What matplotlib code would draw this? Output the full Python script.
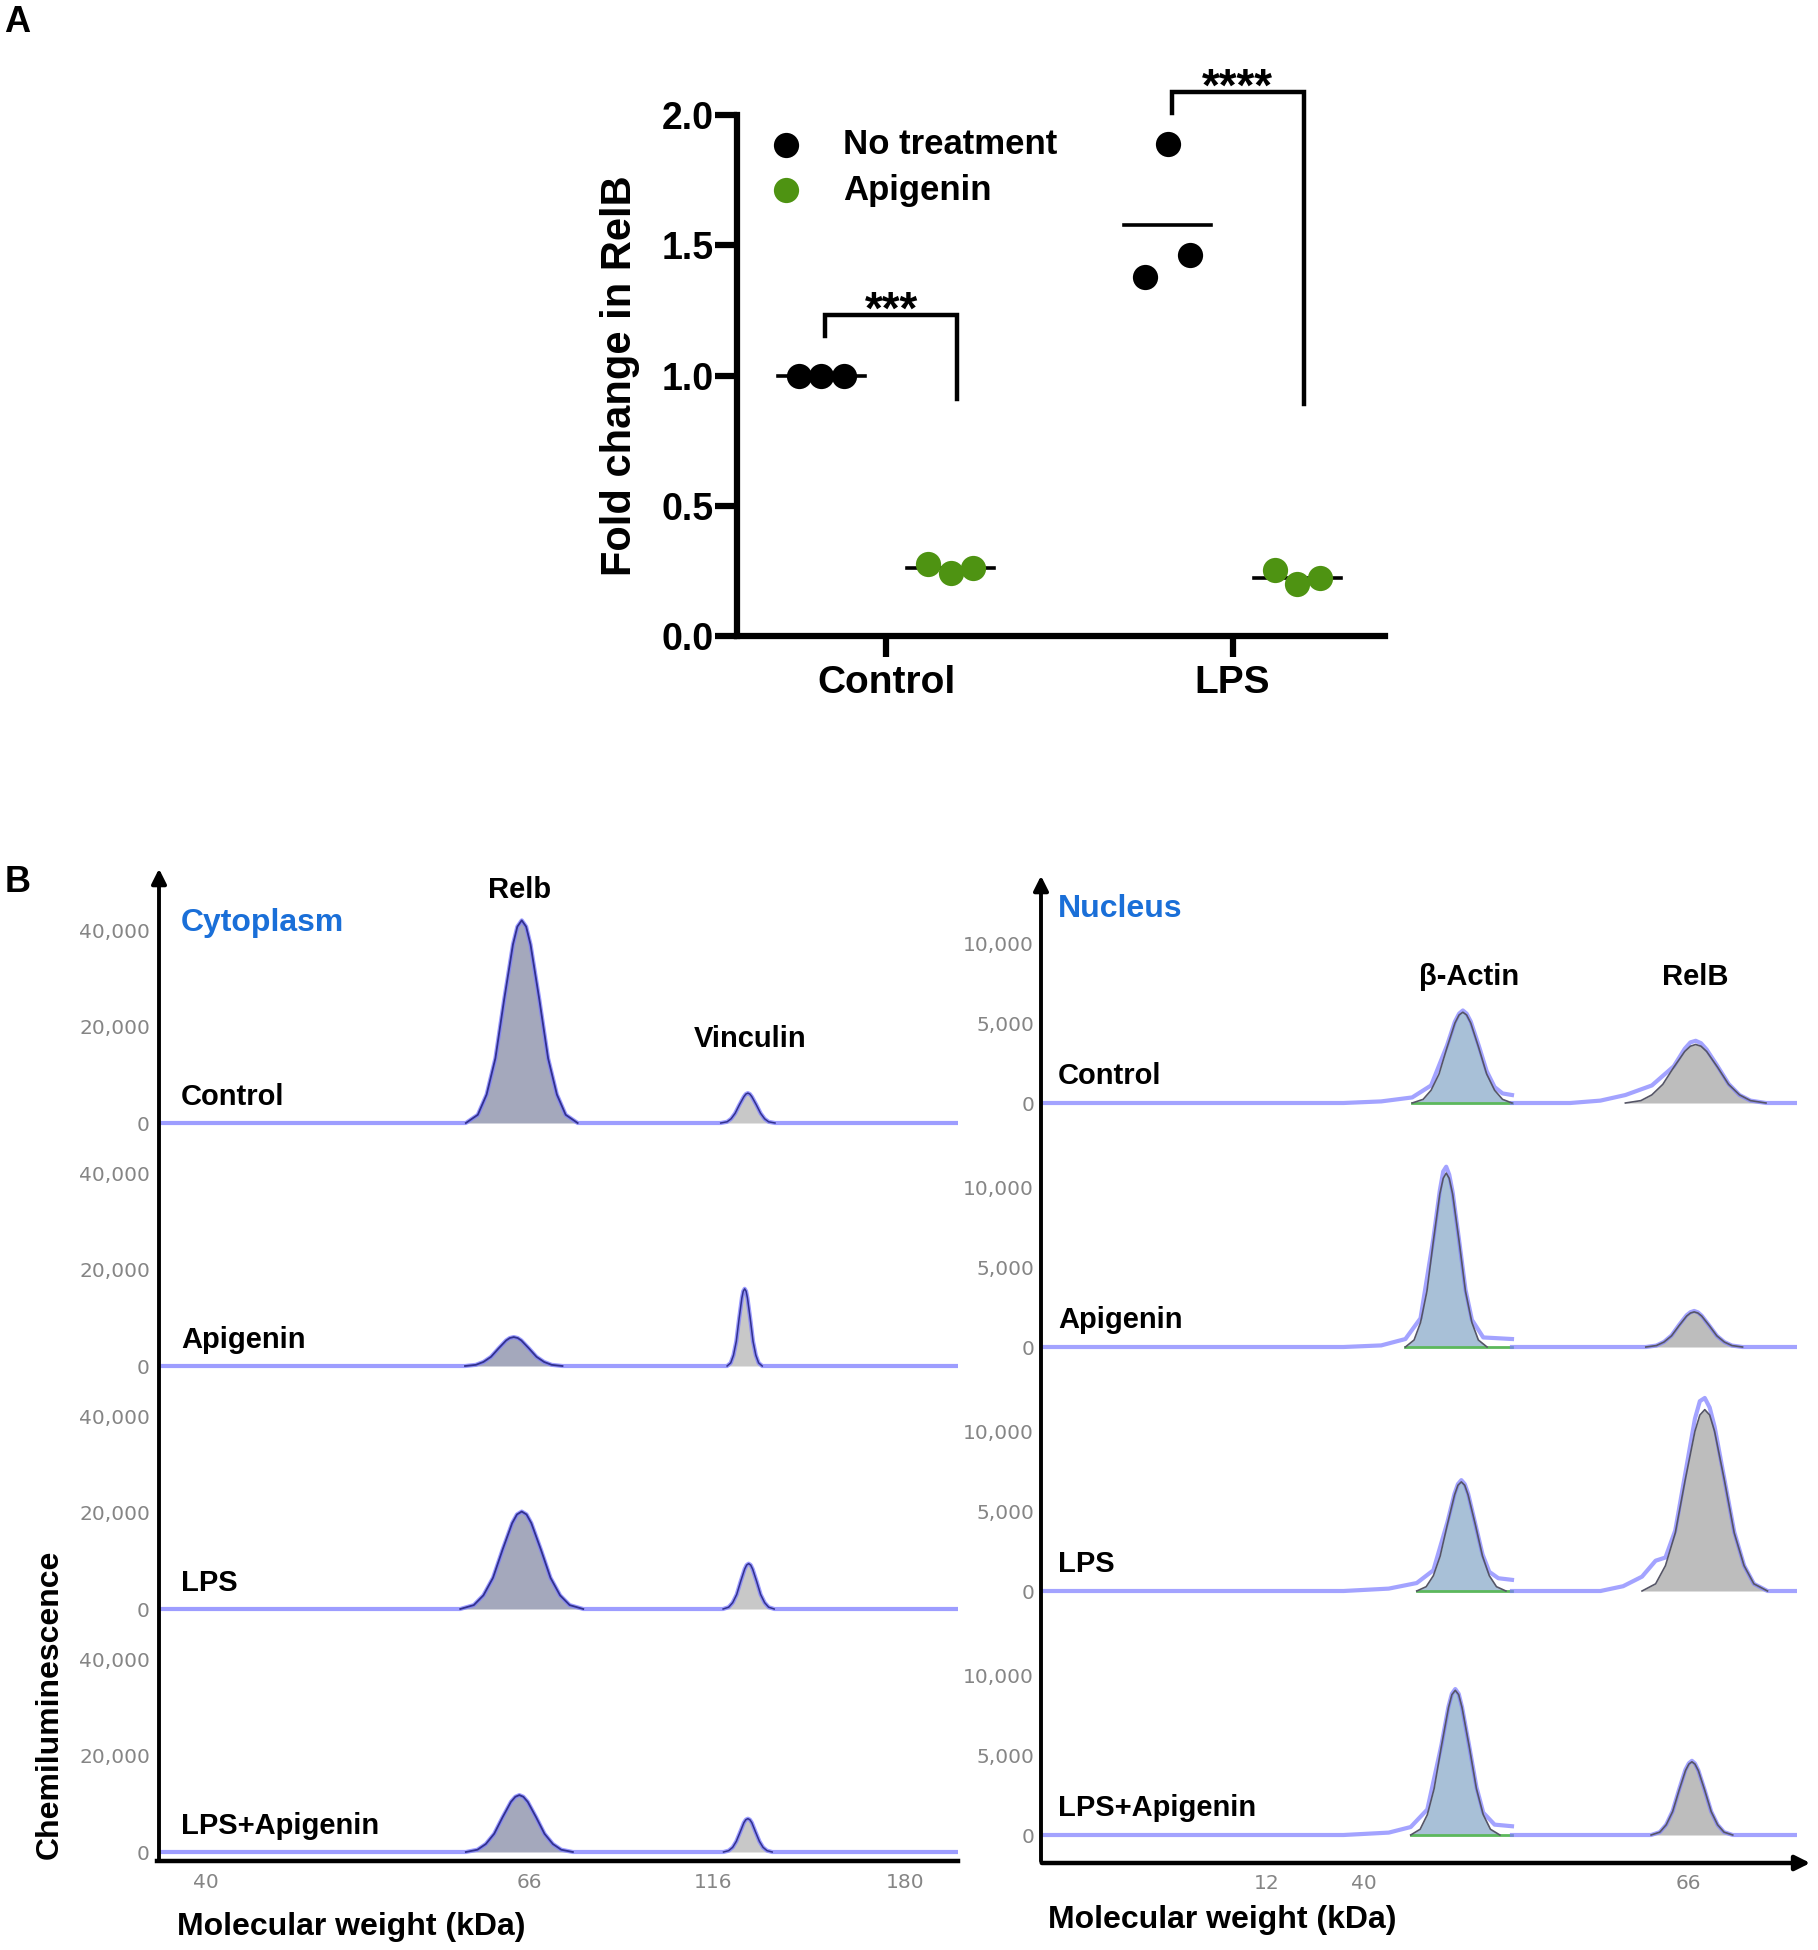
import matplotlib
matplotlib.use('Agg')
import matplotlib.pyplot as plt
import numpy as np
from matplotlib.patches import FancyArrowPatch
from matplotlib.lines import Line2D
import matplotlib.transforms as mtransforms

plt.rcParams['font.family'] = ['Liberation Sans', 'DejaVu Sans']

# ---------------- DATA : panel A ----------------
groups = ['Control', 'LPS']
series_names = ['No treatment', 'Apigenin']
no_treatment = [[1.0, 1.0, 1.0], [1.38, 1.887, 1.463]]
apigenin_vals = [[0.276, 0.243, 0.260], [0.252, 0.198, 0.223]]
sig_labels = ['***', '****']
bracket_top = [1.234, 2.09]
bracket_left_end = [1.15, 2.008]
bracket_right_end = [0.91, 0.89]
yticks_A = [0.0, 0.5, 1.0, 1.5, 2.0]

# ---------------- DATA : panel B ----------------
conditions = ['Control', 'Apigenin', 'LPS', 'LPS+Apigenin']
cyto_ticks = [5.9, 46.4, 69.4, 93.4]
cyto_ticklabels = ['40', '66', '116', '180']
nuc_ticks = [29.8, 42.7, 85.6]
nuc_ticklabels = ['12', '40', '66']
cyto_yticks = [0, 20000, 40000]
nuc_yticks = [0, 5000, 10000]

cyto_relb_x = [
    [38.4, 39.9, 41.0, 42.1, 43.2, 44.3, 44.85, 45.4, 45.95, 46.5, 47.6, 48.7, 49.8, 50.9, 52.4],
    [38.3, 39.65, 40.6, 41.55, 42.5, 43.45, 43.9, 44.4, 44.9, 45.35, 46.3, 47.25, 48.2, 49.15, 50.5],
    [37.7, 39.4, 40.6, 41.8, 43.0, 44.2, 44.8, 45.4, 46.0, 46.6, 47.8, 49.0, 50.2, 51.4, 53.1],
    [38.4, 39.85, 40.9, 41.95, 43.0, 44.05, 44.6, 45.1, 45.6, 46.15, 47.2, 48.25, 49.3, 50.35, 51.8]]
cyto_relb_y = [
    [0, 1700, 5900, 13400, 25600, 37000, 40700, 42000, 40700, 37000, 25600, 13400, 5900, 1700, 0],
    [0, 240, 840, 1900, 3650, 5300, 5800, 6000, 5800, 5300, 3650, 1900, 840, 240, 0],
    [0, 810, 2830, 6460, 12300, 17800, 19600, 20200, 19600, 17800, 12300, 6460, 2830, 810, 0],
    [0, 470, 1650, 3780, 7200, 10400, 11450, 11800, 11450, 10400, 7200, 3780, 1650, 470, 0]]
cyto_vinc_x = [
    [70.3, 71.1, 71.6, 72.1, 72.65, 73.2, 73.45, 73.7, 73.95, 74.2, 74.75, 75.3, 75.8, 76.3, 77.1],
    [71.1, 71.55, 71.9, 72.25, 72.6, 72.95, 73.12, 73.3, 73.48, 73.65, 74.0, 74.35, 74.7, 75.05, 75.5],
    [70.6, 71.3, 71.8, 72.3, 72.8, 73.3, 73.55, 73.8, 74.05, 74.3, 74.8, 75.3, 75.8, 76.3, 77.0],
    [70.65, 71.3, 71.8, 72.25, 72.75, 73.2, 73.45, 73.7, 73.95, 74.2, 74.65, 75.15, 75.6, 76.1, 76.75]]
cyto_vinc_y = [
    [0, 250, 870, 2000, 3800, 5450, 6000, 6200, 6000, 5450, 3800, 2000, 870, 250, 0],
    [0, 640, 2240, 5100, 9800, 14100, 15500, 16000, 15500, 14100, 9800, 5100, 2240, 640, 0],
    [0, 380, 1320, 3000, 5730, 8270, 9120, 9400, 9120, 8270, 5730, 3000, 1320, 380, 0],
    [0, 280, 970, 2200, 4200, 6070, 6700, 6900, 6700, 6070, 4200, 2200, 970, 280, 0]]

nuc_actin_x = [
    [49.1, 50.55, 51.6, 52.65, 53.7, 54.75, 55.3, 55.8, 56.3, 56.85, 57.9, 58.95, 60.0, 61.05, 62.3],
    [48.2, 49.35, 50.2, 51.05, 51.9, 52.75, 53.2, 53.6, 54.0, 54.45, 55.3, 56.15, 57.0, 57.85, 59.0],
    [49.7, 50.95, 51.9, 52.8, 53.75, 54.7, 55.15, 55.6, 56.05, 56.5, 57.45, 58.4, 59.3, 60.25, 61.5],
    [48.9, 50.15, 51.1, 52.0, 52.95, 53.9, 54.35, 54.8, 55.25, 55.7, 56.65, 57.6, 58.5, 59.45, 60.7]]
nuc_actin_y = [
    [0, 230, 800, 1820, 3470, 5010, 5520, 5690, 5520, 5010, 3470, 1820, 800, 230, 0],
    [0, 440, 1530, 3490, 6650, 9590, 10570, 10900, 10570, 9590, 6650, 3490, 1530, 440, 0],
    [0, 270, 960, 2190, 4170, 6020, 6630, 6840, 6630, 6020, 4170, 2190, 960, 270, 0],
    [0, 360, 1270, 2900, 5530, 7980, 8800, 9070, 8800, 7980, 5530, 2900, 1270, 360, 0]]
nuc_actin_raw_x = [
    [40, 45, 49.1, 51.6, 53.7, 54.75, 55.3, 55.8, 56.3, 56.85, 57.9, 58.95, 60.0, 61.05, 62.3],
    [40, 45, 48.2, 50.2, 51.9, 52.75, 53.2, 53.6, 54.0, 54.45, 55.3, 56.15, 57.0, 58.5, 62.3],
    [40, 46, 49.7, 51.9, 53.75, 54.7, 55.15, 55.6, 56.05, 56.5, 57.45, 58.4, 59.3, 60.5, 62.3],
    [40, 46, 48.9, 51.1, 52.95, 53.9, 54.35, 54.8, 55.25, 55.7, 56.65, 57.6, 58.5, 60.0, 62.3]]
nuc_actin_raw_y = [
    [0, 100, 350, 1100, 3600, 5100, 5600, 5800, 5600, 5100, 3600, 2000, 1000, 600, 500],
    [0, 100, 500, 1800, 6800, 9800, 11000, 11300, 10800, 9700, 6700, 3600, 1700, 600, 500],
    [0, 150, 500, 1300, 4300, 6100, 6700, 6950, 6700, 6100, 4200, 2300, 1200, 800, 700],
    [0, 150, 500, 1600, 5600, 8050, 8850, 9150, 8850, 8000, 5550, 3000, 1400, 650, 550]]

nuc_relb_x = [
    [77.3, 79.35, 80.8, 82.25, 83.7, 85.15, 85.9, 86.6, 87.3, 88.05, 89.5, 90.95, 92.4, 93.85, 95.9],
    [80.0, 81.4, 82.4, 83.4, 84.4, 85.4, 85.9, 86.4, 86.9, 87.4, 88.4, 89.4, 90.4, 91.4, 92.8],
    [79.5, 81.3, 82.6, 83.9, 85.2, 86.5, 87.15, 87.8, 88.45, 89.1, 90.4, 91.7, 93.0, 94.3, 96.1],
    [80.7, 81.85, 82.7, 83.55, 84.4, 85.25, 85.7, 86.1, 86.5, 86.95, 87.8, 88.65, 89.5, 90.35, 91.5]]
nuc_relb_y = [
    [0, 150, 510, 1170, 2240, 3230, 3560, 3670, 3560, 3230, 2240, 1170, 510, 150, 0],
    [0, 90, 310, 700, 1340, 1940, 2130, 2200, 2130, 1940, 1340, 700, 310, 90, 0],
    [0, 450, 1590, 3640, 6940, 10010, 11030, 11370, 11030, 10010, 6940, 3640, 1590, 450, 0],
    [0, 180, 640, 1470, 2800, 4040, 4450, 4590, 4450, 4040, 2800, 1470, 640, 180, 0]]
nuc_relb_raw_x = [
    [70, 74, 77.3, 80.8, 83.7, 85.15, 85.9, 86.6, 87.3, 88.05, 89.5, 90.95, 92.4, 93.85, 95.9],
    [80.0, 81.4, 82.4, 83.4, 84.4, 85.4, 85.9, 86.4, 86.9, 87.4, 88.4, 89.4, 90.4, 91.4, 92.8],
    [74, 77, 79.5, 81.3, 82.6, 83.9, 85.2, 86.5, 87.15, 87.8, 88.45, 89.1, 90.4, 91.7, 93.0, 94.3, 96.1],
    [80.7, 81.85, 82.7, 83.55, 84.4, 85.25, 85.7, 86.1, 86.5, 86.95, 87.8, 88.65, 89.5, 90.35, 91.5]]
nuc_relb_raw_y = [
    [0, 150, 500, 1100, 2300, 3400, 3800, 3900, 3750, 3350, 2300, 1200, 500, 150, 0],
    [0, 90, 320, 720, 1380, 1990, 2180, 2260, 2170, 1960, 1340, 700, 310, 90, 0],
    [0, 300, 900, 1900, 2100, 3800, 7300, 10800, 11900, 12100, 11500, 10300, 7000, 3700, 1600, 450, 0],
    [0, 180, 650, 1500, 2850, 4100, 4500, 4650, 4480, 4050, 2800, 1470, 640, 180, 0]]

# ---------------- LAYOUT / STYLE ----------------
W, H = 1818, 1950
GREEN = '#4e9312'
BLUE_TXT = '#1a6fd8'
GRAY_TXT = '#858585'
RAW = '#7c7cff'
NAVY = '#30308f'


def fr(x0, y_top, x1, y_bot):
    return [x0 / W, 1 - y_bot / H, (x1 - x0) / W, (y_bot - y_top) / H]


fig = plt.figure(figsize=(W / 100, H / 100), dpi=100)

# ================= Panel A =================
axA = fig.add_axes(fr(737, 115, 1385, 636))
axA.set_xlim(-0.43, 1.44)
axA.set_ylim(0, 2.0)
OFF = 0.187
JIT = 0.065
HALF = 0.125
handles = []
for gi, g in enumerate(groups):
    for si, (vals, off, col) in enumerate([(no_treatment[gi], -OFF, 'black'),
                                            (apigenin_vals[gi], OFF, GREEN)]):
        xs = gi + off + JIT * np.array([-1, 0, 1])
        sc = axA.scatter(xs, vals, s=330, color=col, zorder=3, clip_on=False,
                         label=series_names[si], linewidths=0)
        if gi == 0:
            handles.append(sc)
        m = np.mean(vals)
        axA.plot([gi + off - HALF, gi + off + HALF], [m, m], color='black', lw=2.6, zorder=2)
    # significance bracket
    xl, xr = gi - 0.175, gi + 0.205
    axA.plot([xl, xl, xr, xr], [bracket_left_end[gi], bracket_top[gi], bracket_top[gi],
                                bracket_right_end[gi]], color='black', lw=3.2,
             clip_on=False, solid_joinstyle='miter')
    axA.text((xl + xr) / 2, bracket_top[gi] - 0.035, sig_labels[gi], ha='center',
             va='baseline', fontsize=33, fontweight='bold', clip_on=False)

for s in ['top', 'right']:
    axA.spines[s].set_visible(False)
for s in ['left', 'bottom']:
    axA.spines[s].set_linewidth(4.5)
axA.set_yticks(yticks_A)
axA.set_yticklabels([f'{v:.1f}' for v in yticks_A])
axA.set_xticks(range(len(groups)))
axA.set_xticklabels(groups)
axA.tick_params(axis='y', length=16, width=4.5, labelsize=27, pad=1)
axA.tick_params(axis='x', length=15, width=4.5, labelsize=28, pad=6)
for lab in axA.get_xticklabels() + axA.get_yticklabels():
    lab.set_fontweight('bold')
axA.set_ylabel('Fold change in RelB', fontsize=30, fontweight='bold')
axA.yaxis.set_label_coords(-0.15, 0.5)
axA.legend(handles=handles, loc='upper left', bbox_to_anchor=(0.049, 0.975),
           frameon=False, prop={'weight': 'bold', 'size': 25},
           handlelength=1.0, handletextpad=1.15, borderpad=0, borderaxespad=0,
           labelspacing=0.36, scatterpoints=1)

fig.text(17 / W, 1 - 22 / H, 'A', fontsize=26, fontweight='bold', ha='center', va='center')
fig.text(18 / W, 1 - 882 / H, 'B', fontsize=26, fontweight='bold', ha='center', va='center')

# ================= Panel B : Cytoplasm =================
left_base = [1123, 1366, 1609, 1852]
for k in range(4):
    ax = fig.add_axes(fr(159, left_base[k] - 234, 958, left_base[k] + 9))
    ax.set_xlim(0, 100)
    ax.set_ylim(-1865, 48500)
    for s in ax.spines.values():
        s.set_visible(False)
    x = [0] + cyto_relb_x[k] + cyto_vinc_x[k] + [100]
    y = [0] + cyto_relb_y[k] + cyto_vinc_y[k] + [0]
    ax.fill_between(cyto_relb_x[k], cyto_relb_y[k], color='#a4a8bc', lw=0, zorder=1)
    ax.fill_between(cyto_vinc_x[k], cyto_vinc_y[k], color='#c8c8c8', lw=0, zorder=1)
    ax.plot(x, y, color=RAW, lw=3.0, alpha=0.75, zorder=2, solid_capstyle='butt')
    ax.plot(cyto_relb_x[k], cyto_relb_y[k], color=NAVY, lw=1.3, zorder=3)
    ax.plot(cyto_vinc_x[k], cyto_vinc_y[k], color=NAVY, lw=1.1, zorder=3)
    ax.set_yticks(cyto_yticks)
    ax.set_yticklabels([f'{v:,}' for v in cyto_yticks])
    ax.tick_params(axis='y', length=0, pad=6.5, labelsize=14.5, labelcolor=GRAY_TXT)
    for lab in ax.get_yticklabels():
        lab.set_fontfamily('DejaVu Sans')
    if k == 3:
        ax.set_xticks(cyto_ticks)
        ax.set_xticklabels(cyto_ticklabels)
        ax.tick_params(axis='x', length=0, pad=9, labelsize=14.5, labelcolor=GRAY_TXT)
        for lab in ax.get_xticklabels():
            lab.set_fontfamily('DejaVu Sans')
    else:
        ax.set_xticks([])
    tr = mtransforms.blended_transform_factory(ax.transAxes, ax.transData)
    ax.text((181 - 159) / 799, 5400, conditions[k], transform=tr, ha='left', va='center',
            fontsize=21, fontweight='bold')
    if k == 0:
        ax.text(45.1, 48300, 'Relb', ha='center', va='center', fontsize=21,
                fontweight='bold', clip_on=False)
        ax.text(74.0, 17500, 'Vinculin', ha='center', va='center', fontsize=21,
                fontweight='bold', clip_on=False)
        ax.text((181 - 159) / 799, 41450, 'Cytoplasm', transform=tr, ha='left',
                va='center', fontsize=23, fontweight='bold', color=BLUE_TXT)

fig.add_artist(FancyArrowPatch((159 / W, 1 - 1862 / H), (159 / W, 1 - 866 / H),
                               transform=fig.transFigure, arrowstyle='-|>',
                               mutation_scale=22, lw=2.8, color='black'))
fig.add_artist(Line2D([157 / W, 958 / W], [1 - 1861 / H, 1 - 1861 / H],
                      transform=fig.transFigure, lw=3.2, color='black'))

# ================= Panel B : Nucleus =================
right_base = [1103, 1347, 1591, 1835]
SPLIT = 62.3
for k in range(4):
    ax = fig.add_axes(fr(1041, right_base[k] - 216, 1797, right_base[k] + 28))
    ax.set_xlim(0, 100)
    ax.set_ylim(-1755, 13540)
    for s in ax.spines.values():
        s.set_visible(False)
    # beta-actin segment
    ax.fill_between(nuc_actin_x[k], nuc_actin_y[k], color='#a8c0d7', lw=0, zorder=1)
    ax.plot([nuc_actin_x[k][0], SPLIT], [0, 0], color='#5cb85c', lw=2, zorder=2)
    ax.plot([0] + nuc_actin_raw_x[k], [0] + nuc_actin_raw_y[k], color=RAW, lw=3.0,
            alpha=0.7, zorder=3)
    ax.plot(nuc_actin_x[k], nuc_actin_y[k], color='#555566', lw=1.2, zorder=4)
    # RelB segment
    ax.fill_between(nuc_relb_x[k], nuc_relb_y[k], color='#bdbdbd', lw=0, zorder=1)
    ax.plot([SPLIT] + nuc_relb_raw_x[k] + [100], [0] + nuc_relb_raw_y[k] + [0],
            color=RAW, lw=3.0, alpha=0.7, zorder=3)
    ax.plot(nuc_relb_x[k], nuc_relb_y[k], color='#555566', lw=1.2, zorder=4)
    ax.set_yticks(nuc_yticks)
    ax.set_yticklabels([f'{v:,}' for v in nuc_yticks])
    ax.tick_params(axis='y', length=0, pad=5, labelsize=14.5, labelcolor=GRAY_TXT)
    for lab in ax.get_yticklabels():
        lab.set_fontfamily('DejaVu Sans')
    if k == 3:
        ax.set_xticks(nuc_ticks)
        ax.set_xticklabels(nuc_ticklabels)
        ax.tick_params(axis='x', length=0, pad=8, labelsize=14.5, labelcolor=GRAY_TXT)
        for lab in ax.get_xticklabels():
            lab.set_fontfamily('DejaVu Sans')
    else:
        ax.set_xticks([])
    tr = mtransforms.blended_transform_factory(ax.transAxes, ax.transData)
    ax.text((1058 - 1041) / 756, 1700, conditions[k], transform=tr, ha='left', va='center',
            fontsize=21, fontweight='bold')
    if k == 0:
        ax.text(56.6, 7900, 'β-Actin', ha='center', va='center', fontsize=21,
                fontweight='bold', clip_on=False)
        ax.text(86.6, 7900, 'RelB', ha='center', va='center', fontsize=21,
                fontweight='bold', clip_on=False)
        ax.text((1058 - 1041) / 756, 12160, 'Nucleus', transform=tr, ha='left',
                va='center', fontsize=23, fontweight='bold', color=BLUE_TXT, clip_on=False)

fig.add_artist(FancyArrowPatch((1041 / W, 1 - 1864 / H), (1041 / W, 1 - 873 / H),
                               transform=fig.transFigure, arrowstyle='-|>',
                               mutation_scale=22, lw=2.8, color='black'))
fig.add_artist(FancyArrowPatch((1039 / W, 1 - 1863 / H), (1813 / W, 1 - 1863 / H),
                               transform=fig.transFigure, arrowstyle='-|>',
                               mutation_scale=22, lw=3.2, color='black'))

fig.text(50 / W, 1 - 1859 / H, 'Chemiluminescence', rotation=90, ha='center', va='bottom',
         fontsize=23, fontweight='bold')
fig.text(177 / W, 1 - 1927 / H, 'Molecular weight (kDa)', ha='left', va='center',
         fontsize=23, fontweight='bold')
fig.text(1048 / W, 1 - 1920 / H, 'Molecular weight (kDa)', ha='left', va='center',
         fontsize=23, fontweight='bold')

fig.savefig('out.png', dpi=100)
